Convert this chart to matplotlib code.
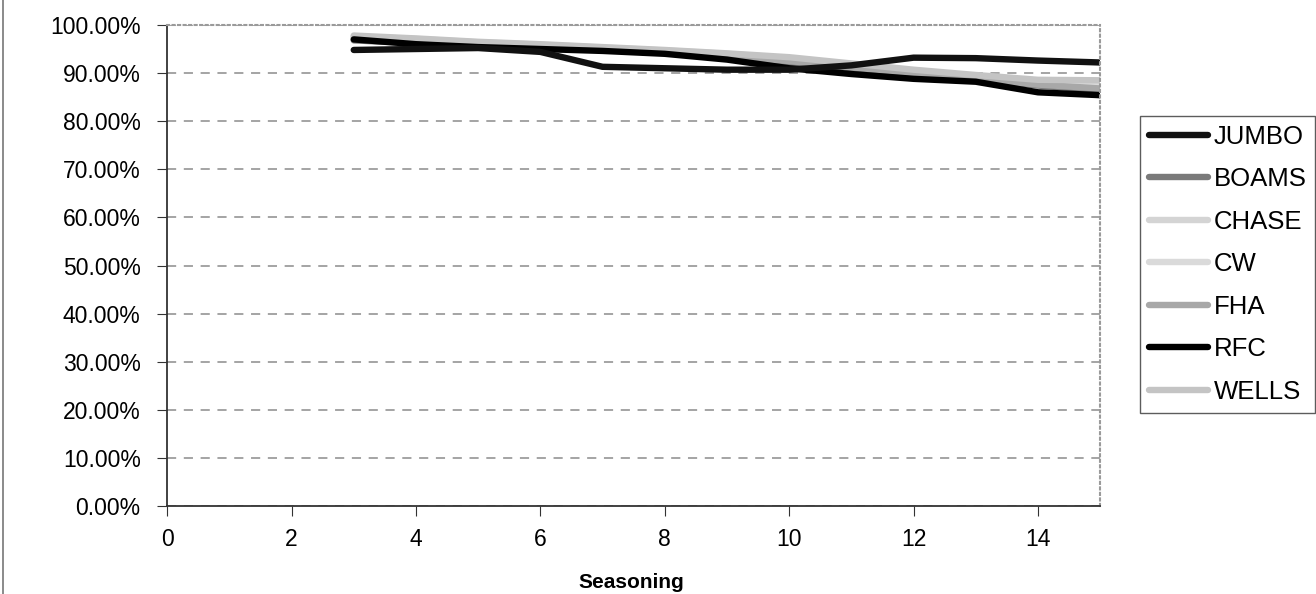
import matplotlib.pyplot as plt
from matplotlib.lines import Line2D
from matplotlib.ticker import FuncFormatter

plt.rcParams['font.family'] = ['Liberation Sans', 'DejaVu Sans']

seasoning = [3, 4, 5, 6, 7, 8, 9, 10, 11, 12, 13, 14, 15]

jumbo = [94.8, 95.0, 95.2, 94.4, 91.3, 91.0, 90.7, 90.7, 91.6, 93.2, 93.1, 92.6, 92.2]
boams = [96.8, 96.2, 95.6, 95.2, 94.8, 94.2, 93.3, 92.2, 91.0, 89.8, 88.9, 87.4, 86.4]
chase = [97.5, 97.0, 96.3, 95.8, 95.2, 94.6, 93.8, 92.9, 91.6, 90.3, 89.2, 88.1, 87.3]
cw = [97.6, 97.1, 96.4, 95.9, 95.3, 94.7, 94.0, 93.1, 91.8, 90.5, 89.4, 88.4, 87.8]
fha = [97.2, 96.6, 96.0, 95.5, 95.0, 94.3, 93.5, 92.5, 91.2, 90.0, 88.8, 87.6, 86.8]
rfc = [97.0, 96.0, 95.4, 95.0, 94.6, 94.0, 92.8, 91.0, 89.8, 88.8, 88.2, 86.0, 85.4]
wells = [97.8, 97.2, 96.5, 96.0, 95.4, 94.8, 94.1, 93.3, 92.0, 90.7, 89.6, 88.6, 88.5]

names = ['JUMBO', 'BOAMS', 'CHASE', 'CW', 'FHA', 'RFC', 'WELLS']
colors = ['#111111', '#7a7a7a', '#d4d4d4', '#dadada', '#a8a8a8', '#000000', '#c4c4c4']

fig = plt.figure(figsize=(13.16, 5.94), dpi=100)
ax = fig.add_axes([0.127, 0.148, 0.709, 0.81])

series = [jumbo, boams, chase, cw, fha, rfc, wells]
# gray ones first so the black lines sit on top
order = [1, 2, 3, 4, 6, 5, 0]
handles = {}
for i in order:
    h, = ax.plot(seasoning, series[i], color=colors[i], lw=4.6,
                 solid_capstyle='round', label=names[i])
    handles[i] = h

ax.set_xlim(0, 15)
ax.set_ylim(0, 100)
ax.set_xticks(range(0, 15, 2))
ax.set_yticks(range(0, 101, 10))
ax.yaxis.set_major_formatter(FuncFormatter(lambda v, p: '%.2f%%' % v))
ax.tick_params(labelsize=16.5, length=7, direction='out', color='#333333')
ax.tick_params(axis='y', pad=12)
ax.tick_params(axis='x', pad=9)
ax.grid(axis='y', color='#8c8c8c', ls=(0, (6, 5)), lw=1.1)
ax.set_axisbelow(True)

for s in ['top', 'right']:
    ax.spines[s].set_color('#9a9a9a')
    ax.spines[s].set_linestyle(':')
    ax.spines[s].set_linewidth(1.5)
for s in ['left', 'bottom']:
    ax.spines[s].set_color('#333333')
    ax.spines[s].set_linewidth(1.3)

fig.text(0.48, 1 - 583 / 594, 'Seasoning', fontsize=15, fontweight='bold',
         ha='center', va='center')

leg = ax.legend([handles[i] for i in range(7)], names,
                loc='upper left', bbox_to_anchor=(1.043, 0.811),
                fontsize=18.5, frameon=True, fancybox=False,
                handlelength=2.3, handletextpad=0.2, labelspacing=0.72,
                borderpad=0.35, borderaxespad=0)
leg.get_frame().set_edgecolor('#333333')
leg.get_frame().set_linewidth(1.0)

fig.add_artist(Line2D([0.002, 0.002], [0, 1], color='#777777', lw=1.2,
                      transform=fig.transFigure))

fig.savefig('out.png', dpi=100)
